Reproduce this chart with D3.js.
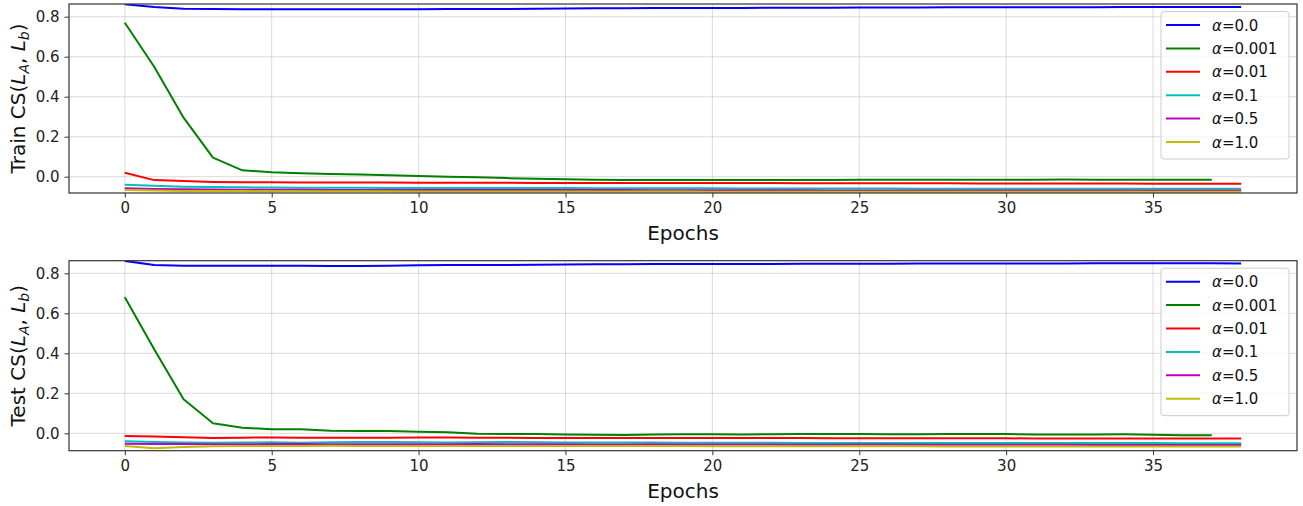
<!DOCTYPE html>
<html>
<head>
<meta charset="utf-8">
<script src="https://cdn.jsdelivr.net/npm/d3@7"></script>
<style>
  html, body { margin: 0; padding: 0; background: #fff; }
  svg { display: block; font-family: "DejaVu Sans", sans-serif; }
</style>
</head>
<body>
<svg id="chart" width="1303" height="506"></svg>
<script>
// Cosine similarity between layer pairs over training, one line per alpha.
const alphaLabels = ["0.0", "0.001", "0.01", "0.1", "0.5", "1.0"];
const seriesColors = ["#0000ff", "#008000", "#ff0000", "#00bfbf", "#bf00bf", "#bfbf00"];
const yTicks = [0.0, 0.2, 0.4, 0.6, 0.8];
const xTicks = [0, 5, 10, 15, 20, 25, 30, 35];

// Train split
const trainAlpha0 = [0.862, 0.848, 0.840, 0.838, 0.837, 0.837, 0.837, 0.837, 0.837, 0.837, 0.837, 0.838, 0.839, 0.839, 0.840, 0.841, 0.842, 0.842, 0.843, 0.843, 0.844, 0.844, 0.845, 0.845, 0.845, 0.846, 0.846, 0.846, 0.847, 0.847, 0.847, 0.847, 0.847, 0.847, 0.848, 0.848, 0.848, 0.848, 0.848];
const trainAlpha0001 = [0.770, 0.550, 0.295, 0.095, 0.032, 0.022, 0.017, 0.014, 0.011, 0.007, 0.003, 0.000, -0.003, -0.007, -0.010, -0.013, -0.015, -0.016, -0.017, -0.017, -0.017, -0.017, -0.016, -0.016, -0.016, -0.015, -0.015, -0.015, -0.015, -0.015, -0.015, -0.015, -0.014, -0.015, -0.015, -0.015, -0.015, -0.015];
const trainAlpha001 = [0.020, -0.017, -0.022, -0.026, -0.028, -0.028, -0.029, -0.029, -0.029, -0.029, -0.030, -0.030, -0.030, -0.030, -0.031, -0.031, -0.031, -0.031, -0.032, -0.032, -0.032, -0.032, -0.032, -0.033, -0.033, -0.033, -0.033, -0.033, -0.033, -0.034, -0.034, -0.034, -0.034, -0.034, -0.034, -0.035, -0.035, -0.035, -0.035];
const trainAlpha01 = [-0.040, -0.045, -0.050, -0.052, -0.053, -0.054, -0.055, -0.055, -0.055, -0.056, -0.056, -0.056, -0.057, -0.057, -0.057, -0.057, -0.058, -0.058, -0.058, -0.058, -0.058, -0.059, -0.059, -0.059, -0.059, -0.059, -0.059, -0.060, -0.060, -0.060, -0.060, -0.060, -0.060, -0.060, -0.060, -0.060, -0.060, -0.060, -0.060];
const trainAlpha05 = [-0.058, -0.061, -0.063, -0.064, -0.065, -0.065, -0.065, -0.066, -0.066, -0.066, -0.066, -0.066, -0.067, -0.067, -0.067, -0.067, -0.067, -0.067, -0.068, -0.068, -0.068, -0.068, -0.068, -0.068, -0.069, -0.069, -0.069, -0.069, -0.069, -0.069, -0.069, -0.069, -0.069, -0.069, -0.069, -0.069, -0.069, -0.069, -0.069];
const trainAlpha10 = [-0.066, -0.069, -0.071, -0.072, -0.072, -0.073, -0.073, -0.073, -0.073, -0.073, -0.074, -0.074, -0.074, -0.074, -0.074, -0.074, -0.074, -0.074, -0.074, -0.074, -0.075, -0.075, -0.075, -0.075, -0.075, -0.075, -0.075, -0.075, -0.075, -0.075, -0.075, -0.075, -0.075, -0.075, -0.075, -0.075, -0.075, -0.075, -0.075];

// Test split
const testAlpha0 = [0.862, 0.842, 0.838, 0.838, 0.838, 0.838, 0.838, 0.837, 0.837, 0.838, 0.840, 0.841, 0.841, 0.842, 0.843, 0.844, 0.845, 0.845, 0.846, 0.846, 0.847, 0.847, 0.847, 0.848, 0.848, 0.848, 0.848, 0.849, 0.849, 0.849, 0.849, 0.849, 0.849, 0.850, 0.850, 0.850, 0.850, 0.850, 0.849];
const testAlpha0001 = [0.680, 0.420, 0.170, 0.050, 0.028, 0.020, 0.020, 0.013, 0.012, 0.012, 0.008, 0.005, -0.002, -0.003, -0.004, -0.006, -0.007, -0.008, -0.006, -0.005, -0.005, -0.006, -0.005, -0.004, -0.003, -0.003, -0.005, -0.005, -0.004, -0.004, -0.004, -0.006, -0.006, -0.006, -0.005, -0.007, -0.010, -0.010];
const testAlpha001 = [-0.013, -0.016, -0.020, -0.024, -0.022, -0.021, -0.022, -0.022, -0.022, -0.022, -0.021, -0.021, -0.022, -0.022, -0.023, -0.023, -0.023, -0.023, -0.023, -0.024, -0.024, -0.024, -0.024, -0.024, -0.025, -0.025, -0.025, -0.025, -0.025, -0.025, -0.025, -0.026, -0.026, -0.026, -0.026, -0.026, -0.026, -0.026, -0.026];
const testAlpha01 = [-0.040, -0.043, -0.046, -0.047, -0.046, -0.045, -0.047, -0.045, -0.044, -0.044, -0.045, -0.046, -0.045, -0.044, -0.045, -0.046, -0.046, -0.046, -0.046, -0.047, -0.047, -0.047, -0.047, -0.048, -0.048, -0.048, -0.048, -0.048, -0.048, -0.049, -0.049, -0.049, -0.049, -0.049, -0.049, -0.049, -0.050, -0.050, -0.050];
const testAlpha05 = [-0.052, -0.053, -0.054, -0.055, -0.055, -0.054, -0.053, -0.055, -0.055, -0.055, -0.055, -0.055, -0.054, -0.055, -0.055, -0.055, -0.056, -0.056, -0.055, -0.056, -0.056, -0.056, -0.056, -0.057, -0.057, -0.056, -0.056, -0.057, -0.057, -0.057, -0.057, -0.057, -0.057, -0.058, -0.058, -0.058, -0.058, -0.058, -0.058];
const testAlpha10 = [-0.063, -0.075, -0.068, -0.065, -0.064, -0.063, -0.063, -0.062, -0.063, -0.063, -0.063, -0.063, -0.064, -0.064, -0.064, -0.064, -0.064, -0.064, -0.064, -0.064, -0.065, -0.065, -0.065, -0.065, -0.065, -0.065, -0.065, -0.065, -0.066, -0.066, -0.066, -0.066, -0.066, -0.066, -0.066, -0.066, -0.066, -0.066, -0.066];

const panels = [
  { split: "Train", top: 4, bottom: 193, yDomain: [-0.0815, 0.8635],
    series: [trainAlpha0, trainAlpha0001, trainAlpha001, trainAlpha01, trainAlpha05, trainAlpha10] },
  { split: "Test", top: 260.7, bottom: 450.7, yDomain: [-0.087, 0.863],
    series: [testAlpha0, testAlpha0001, testAlpha001, testAlpha01, testAlpha05, testAlpha10] }
];

const svg = d3.select("#chart");
const left = 69, right = 1297;
const x = d3.scaleLinear().domain([-1.9, 39.9]).range([left, right]);
const tickColor = "#222";

panels.forEach(p => {
  const y = d3.scaleLinear().domain(p.yDomain).range([p.bottom, p.top]);
  const g = svg.append("g");
  const clipId = "clip-" + p.split;
  svg.append("clipPath").attr("id", clipId)
    .append("rect").attr("x", left).attr("y", p.top)
    .attr("width", right - left).attr("height", p.bottom - p.top);

  // grid
  const grid = g.append("g").attr("stroke", "#b0b0b0").attr("stroke-opacity", 0.45).attr("stroke-width", 1);
  xTicks.forEach(t => grid.append("line")
    .attr("x1", x(t)).attr("x2", x(t)).attr("y1", p.top).attr("y2", p.bottom));
  yTicks.forEach(t => grid.append("line")
    .attr("x1", left).attr("x2", right).attr("y1", y(t)).attr("y2", y(t)));

  // lines
  const line = d3.line().x((d, i) => x(i)).y(d => y(d));
  const lg = g.append("g").attr("clip-path", `url(#${clipId})`);
  p.series.forEach((vals, k) => {
    lg.append("path").datum(vals)
      .attr("fill", "none")
      .attr("stroke", seriesColors[k])
      .attr("stroke-width", 2)
      .attr("stroke-linejoin", "round")
      .attr("d", line);
  });

  // axes
  const xAxis = d3.axisBottom(x).tickValues(xTicks).tickSize(4.5).tickPadding(5).tickFormat(d3.format("d"));
  const yAxis = d3.axisLeft(y).tickValues(yTicks).tickSize(4.5).tickPadding(5).tickFormat(d3.format(".1f"));
  const xa = g.append("g").attr("transform", `translate(0,${p.bottom})`).call(xAxis);
  const ya = g.append("g").attr("transform", `translate(${left},0)`).call(yAxis);
  [xa, ya].forEach(a => {
    a.select(".domain").remove();
    a.selectAll(".tick line").attr("stroke", "#333").attr("stroke-width", 1);
    a.selectAll(".tick text").attr("fill", tickColor).style("font-size", "15px")
      .style("font-family", "DejaVu Sans");
  });

  // frame
  g.append("rect").attr("x", left).attr("y", p.top)
    .attr("width", right - left).attr("height", p.bottom - p.top)
    .attr("fill", "none").attr("stroke", "#333").attr("stroke-width", 1.2);

  // x label
  g.append("text").attr("x", (left + right) / 2).attr("y", p.bottom + 47)
    .attr("text-anchor", "middle").attr("fill", "#111")
    .style("font-size", "20px").text("Epochs");

  // y label with math
  const cy = (p.top + p.bottom) / 2;
  const yl = g.append("text").attr("transform", `translate(25,${cy}) rotate(-90)`)
    .attr("text-anchor", "middle").attr("fill", "#111").style("font-size", "20px");
  yl.append("tspan").text(p.split + " CS(");
  yl.append("tspan").attr("font-style", "italic").text("L");
  yl.append("tspan").attr("font-style", "italic").attr("font-size", "14px").attr("dy", 4).text("A");
  yl.append("tspan").attr("dy", -4).text(", ");
  yl.append("tspan").attr("font-style", "italic").text("L");
  yl.append("tspan").attr("font-style", "italic").attr("font-size", "14px").attr("dy", 4).text("b");
  yl.append("tspan").attr("dy", -4).text(")");

  // legend
  const legW = 128, legH = 147.5;
  const lx = right - 8 - legW, ly = p.top + 7.5;
  const leg = g.append("g");
  leg.append("rect").attr("x", lx).attr("y", ly).attr("width", legW).attr("height", legH)
    .attr("rx", 3).attr("fill", "#fff").attr("fill-opacity", 0.8)
    .attr("stroke", "#cccccc").attr("stroke-width", 1);
  alphaLabels.forEach((lab, k) => {
    const ry = ly + 13.5 + k * 23.4;
    leg.append("line").attr("x1", lx + 5).attr("x2", lx + 39).attr("y1", ry).attr("y2", ry)
      .attr("stroke", seriesColors[k]).attr("stroke-width", 2);
    const t = leg.append("text").attr("x", lx + 51).attr("y", ry + 5.5)
      .attr("fill", "#111").style("font-size", "15px");
    t.append("tspan").attr("font-style", "italic").text("α");
    t.append("tspan").text("=" + lab);
  });
});
</script>
</body>
</html>
